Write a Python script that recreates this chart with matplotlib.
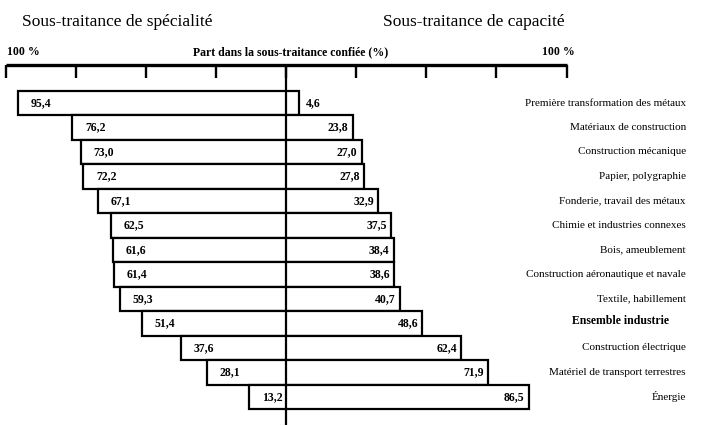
import matplotlib
matplotlib.use("Agg")
import matplotlib.pyplot as plt

categories = [
    "Première transformation des métaux",
    "Matériaux de construction",
    "Construction mécanique",
    "Papier, polygraphie",
    "Fonderie, travail des métaux",
    "Chimie et industries connexes",
    "Bois, ameublement",
    "Construction aéronautique et navale",
    "Textile, habillement",
    "Ensemble industrie",
    "Construction électrique",
    "Matériel de transport terrestres",
    "Énergie",
]
specialite = [95.4, 76.2, 73.0, 72.2, 67.1, 62.5, 61.6, 61.4, 59.3, 51.4, 37.6, 28.1, 13.2]
capacite = [4.6, 23.8, 27.0, 27.8, 32.9, 37.5, 38.4, 38.6, 40.7, 48.6, 62.4, 71.9, 86.5]
tick_values = [-100, -75, -50, -25, 0, 25, 50, 75, 100]

SERIF = ["Liberation Serif", "DejaVu Serif"]

def fmt(v):
    return f"{v:.1f}".replace(".", ",")

fig = plt.figure(figsize=(7.05, 4.26), dpi=100)
ax = fig.add_axes([0, 0, 1, 1])
ax.set_axis_off()

# pixel mapping: x=0 at 286 px, 2.805 px per %; row pitch 24.5 px, row 0 at 103 px
ax.set_xlim(-286 / 2.805, (705 - 286) / 2.805)
ax.set_ylim((426 - 103) / 24.5, (0 - 103) / 24.5)

def py(p):
    return (p - 103) / 24.5

n = len(categories)
ys = list(range(n))
lefts = [-s for s in specialite]
widths = [s + c for s, c in zip(specialite, capacite)]
ax.barh(ys, widths, left=lefts, height=1.0, color="white",
        edgecolor="black", linewidth=1.6, zorder=2)

# central axis line
ax.vlines(0, py(64), py(425), color="black", linewidth=1.6, zorder=3)
# top scale
ax.hlines(py(65), -100, 100, color="black", linewidth=2.4, zorder=3)
for t in tick_values:
    ax.vlines(t, py(65), py(78), color="black", linewidth=1.7, zorder=3)

for y, s, c, cat in zip(ys, specialite, capacite, categories):
    ax.text(-s + 4.5, y, fmt(s), ha="left", va="center", fontsize=8.5,
            fontweight="bold", family=SERIF, zorder=4)
    if c < 10:
        ax.text(c + 2.5, y, fmt(c), ha="left", va="center", fontsize=8.5,
                fontweight="bold", family=SERIF, zorder=4)
    else:
        ax.text(c - 1.5, y, fmt(c), ha="right", va="center", fontsize=8.5,
                fontweight="bold", family=SERIF, zorder=4)
    if cat == "Ensemble industrie":
        ax.text(136.5, y - 0.12, cat, ha="right", va="center", fontsize=8.5,
                fontweight="bold", family=SERIF)
    else:
        ax.text(142.6, y, cat, ha="right", va="center", fontsize=8,
                family=SERIF)

ax.text(-94.2, py(22), "Sous-traitance de spécialité", ha="left", va="center",
        fontsize=12.5, family=SERIF)
ax.text(99.5, py(22), "Sous-traitance de capacité", ha="right", va="center",
        fontsize=12.5, family=SERIF)
ax.text(-99.5, py(52), "100 %", ha="left", va="center", fontsize=8.5,
        fontweight="bold", family=SERIF)
ax.text(103, py(52), "100 %", ha="right", va="center", fontsize=8.5,
        fontweight="bold", family=SERIF)
ax.text(1.5, py(52), "Part dans la sous-traitance confiée (%)", ha="center",
        va="center", fontsize=8.5, fontweight="bold", family=SERIF)

fig.savefig("out.png", dpi=100)
